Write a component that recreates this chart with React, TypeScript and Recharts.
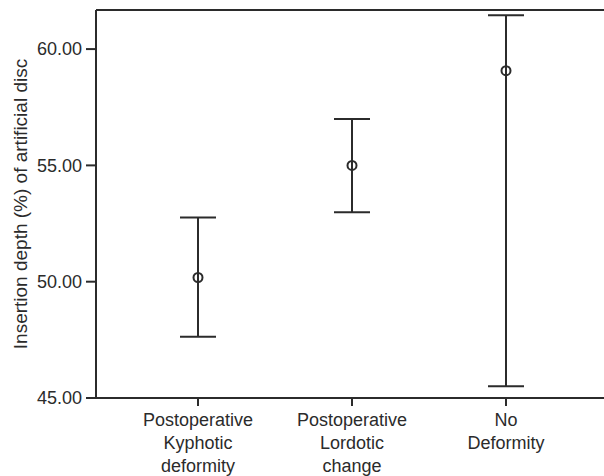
import { ComposedChart, Scatter, ErrorBar, XAxis, YAxis, Label, ReferenceLine } from "recharts";

const groups = [
  ["Postoperative", "Kyphotic", "deformity"],
  ["Postoperative", "Lordotic", "change"],
  ["No", "Deformity"],
];
const means = [50.18, 55.0, 59.07];
const lowers = [47.63, 52.99, 45.5];
const uppers = [52.76, 56.99, 61.45];
const yTicks = [45, 50, 55, 60];
const yMax = 61.68;

const data = groups.map((lines, i) => ({
  name: lines.join(" "),
  mean: means[i],
  err: [means[i] - lowers[i], uppers[i] - means[i]],
}));

const INK = "#2b2b2b";
const FONT = "'Liberation Sans', Arial, sans-serif";

function CategoryTick({ x, y, payload }: any) {
  const lines = groups[payload.index] ?? [payload.value];
  return (
    <text x={x} y={y} textAnchor="middle" fill={INK} fontSize={18} fontFamily={FONT}>
      {lines.map((l, i) => (
        <tspan key={i} x={x} dy={i === 0 ? 18 : 23}>
          {l}
        </tspan>
      ))}
    </text>
  );
}

function MeanDot({ cx, cy }: any) {
  return <circle cx={cx} cy={cy} r={4.5} fill="none" stroke={INK} strokeWidth={2} />;
}

export default function App() {
  return (
    <div style={{ position: "absolute", left: 0, top: 0, background: "#fff" }}>
      <ComposedChart
        width={604}
        height={476}
        data={data}
        margin={{ top: 10, right: 0, left: 0, bottom: 0 }}
      >
        <XAxis
          dataKey="name"
          type="category"
          height={78}
          padding={{ left: 102, right: 98 }}
          stroke={INK}
          strokeWidth={2}
          tickSize={8}
          tick={<CategoryTick />}
          interval={0}
        />
        <YAxis
          type="number"
          domain={[45, yMax]}
          ticks={yTicks}
          width={96}
          stroke={INK}
          strokeWidth={2}
          tickSize={10}
          tickMargin={4}
          tickFormatter={(v: number) => v.toFixed(2)}
          tick={{ fill: INK, fontSize: 18, fontFamily: FONT }}
          allowDataOverflow
        >
          <Label
            content={({ viewBox }: any) => {
              const cy = viewBox.y + viewBox.height / 2;
              return (
                <text
                  x={20}
                  y={cy}
                  transform={`rotate(-90, 20, ${cy})`}
                  textAnchor="middle"
                  dominantBaseline="central"
                  fill={INK}
                  fontSize={19}
                  fontFamily={FONT}
                >
                  Insertion depth (%) of artificial disc
                </text>
              );
            }}
          />
        </YAxis>
        <ReferenceLine y={yMax} stroke={INK} strokeWidth={2} />
        <Scatter dataKey="mean" shape={<MeanDot />} isAnimationActive={false}>
          <ErrorBar
            dataKey="err"
            direction="y"
            width={18}
            stroke={INK}
            strokeWidth={2}
            isAnimationActive={false}
          />
        </Scatter>
      </ComposedChart>
    </div>
  );
}
